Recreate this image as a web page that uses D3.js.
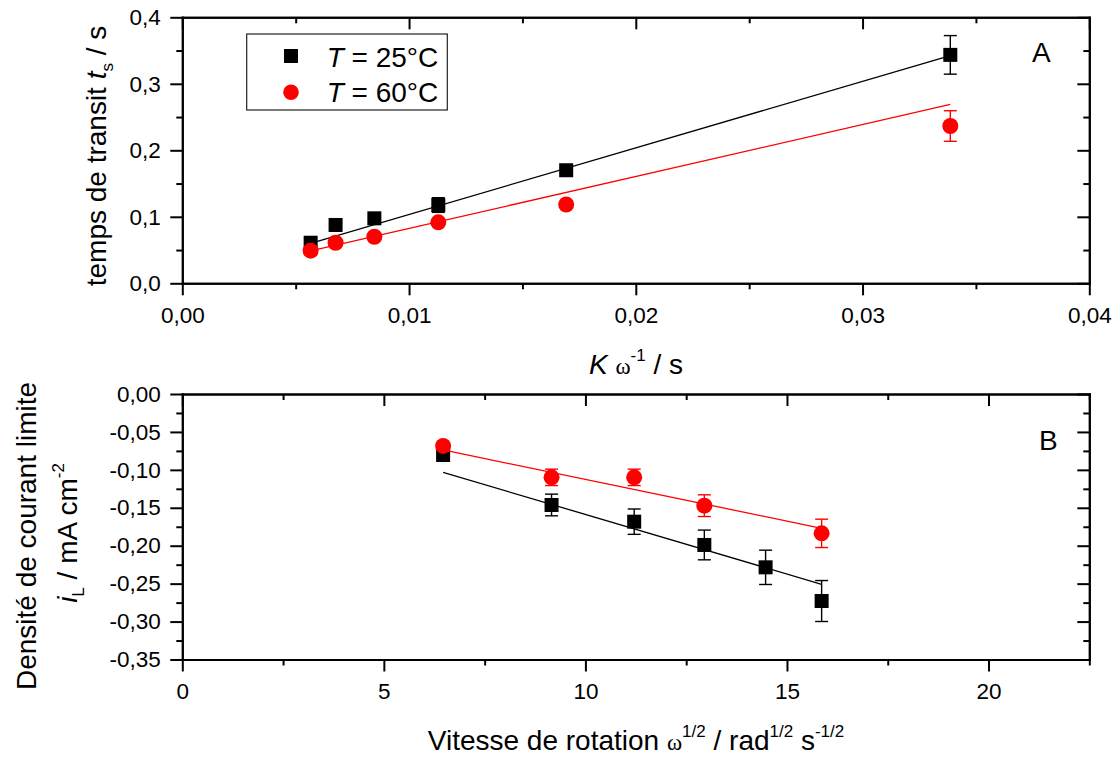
<!DOCTYPE html>
<html><head><meta charset="utf-8">
<script src="https://cdn.jsdelivr.net/npm/d3@7"></script>
<style>body{margin:0;background:#fff} svg text{font-family:"Liberation Sans",Arial,sans-serif}</style>
</head><body><svg id="c" width="1116" height="760"></svg>
<script>
// ---------- Panel A data ----------
const kOmegaInv = [0.00566, 0.00676, 0.00847, 0.01129, 0.01693, 0.03387];
const tA25 = [0.061, 0.0877, 0.0977, 0.1177, 0.170, 0.3435];
const errA25 = [0.004, 0.003, 0.003, 0.011, 0.004, 0.029];
const tA60 = [0.049, 0.061, 0.070, 0.0917, 0.1185, 0.2365];
const errA60 = [0.003, 0.003, 0.003, 0.004, 0.004, 0.023];
const fitA25y = [0.060, 0.3425];   // fitted line at first / last x
const fitA60y = [0.0486, 0.269];
const aXTicks = [0, 0.01, 0.02, 0.03, 0.04];
const aXMinor = [0.005, 0.015, 0.025, 0.035];
const aYTicks = [0, 0.1, 0.2, 0.3, 0.4];
const aYMinor = [0.05, 0.15, 0.25, 0.35];

// ---------- Panel B data ----------
const sqrtOmega25 = [6.47, 9.16, 11.21, 12.95, 14.47, 15.86];
const iL25 = [-0.0804, -0.1463, -0.1683, -0.199, -0.2285, -0.2729];
const errB25 = [0.004, 0.0143, 0.0167, 0.0196, 0.0226, 0.027];
const sqrtOmega60 = [6.47, 9.16, 11.21, 12.95, 15.86];
const iL60 = [-0.0685, -0.1099, -0.1099, -0.1472, -0.1837];
const errB60 = [0.003, 0.0108, 0.0108, 0.0143, 0.0187];
const fitB25y = [-0.1033, -0.2509];
const fitB60y = [-0.0738, -0.177];
const bXTicks = [0, 5, 10, 15, 20];
const bXMinor = [2.5, 7.5, 12.5, 17.5, 22.5];
const bYTicks = [0, -0.05, -0.10, -0.15, -0.20, -0.25, -0.30, -0.35];
const bYMinor = [-0.025, -0.075, -0.125, -0.175, -0.225, -0.275, -0.325];

const legendLabels = ["25°C", "60°C"];
const colors = ["#000000", "#ff0000"];

const FONT = '"Liberation Sans", Arial, sans-serif';
const SERIF = '"Liberation Serif", "Times New Roman", serif';
const svg = d3.select("#c");
const loc = d3.formatLocale({decimal: ",", thousands: ".", grouping: [3], currency: ["", ""], minus: "-"});

const L = 182.3, R = 1089.3;
const xA = d3.scaleLinear().domain([0, 0.04]).range([L, R]);
const yA = d3.scaleLinear().domain([0, 0.4]).range([283.3, 17.3]);
const xB = d3.scaleLinear().domain([0, 22.5]).range([L, R]);
const yB = d3.scaleLinear().domain([-0.35, 0]).range([659.5, 394]);

function style(sel) {
  sel.select(".domain").attr("stroke", "#000").attr("stroke-width", 2).attr("stroke-linecap", "square");
  sel.selectAll(".tick line").attr("stroke", "#000").attr("stroke-width", 2);
  sel.selectAll(".tick text").attr("fill", "#000").style("font-size", "22.5px").style("font-family", FONT);
}

function frame(g, x, y, o) {
  const yb = y.range()[0], yt = y.range()[1];
  const xl = x.range()[0], xr = x.range()[1];
  const add = (tr, ax) => g.append("g").attr("transform", tr).call(ax).call(style);
  add(`translate(0,${yb})`, d3.axisBottom(x).tickValues(o.xMinor).tickSize(6).tickSizeOuter(0).tickFormat(""));
  add(`translate(0,${yb})`, d3.axisBottom(x).tickValues(o.xMajor).tickSize(12).tickSizeOuter(0).tickPadding(11.5).tickFormat(o.fx));
  add(`translate(0,${yt})`, d3.axisTop(x).tickValues(o.xMinor).tickSize(-6).tickSizeOuter(0).tickFormat(""));
  add(`translate(0,${yt})`, d3.axisTop(x).tickValues(o.xMajor).tickSize(-12).tickSizeOuter(0).tickFormat(""));
  add(`translate(${xl},0)`, d3.axisLeft(y).tickValues(o.yMinor).tickSize(6).tickSizeOuter(0).tickFormat(""));
  add(`translate(${xl},0)`, d3.axisLeft(y).tickValues(o.yMajor).tickSize(12).tickSizeOuter(0).tickPadding(9.5).tickFormat(o.fy));
  add(`translate(${xr},0)`, d3.axisRight(y).tickValues(o.yMinor).tickSize(-6).tickSizeOuter(0).tickFormat(""));
  add(`translate(${xr},0)`, d3.axisRight(y).tickValues(o.yMajor).tickSize(-12).tickSizeOuter(0).tickFormat(""));
}

function series(g, x, y, xs, ys, errs, fitY, color, shape) {
  g.append("line")
    .attr("x1", x(xs[0])).attr("y1", y(fitY[0]))
    .attr("x2", x(xs[xs.length - 1])).attr("y2", y(fitY[1]))
    .attr("stroke", color).attr("stroke-width", 1.3);
  const pts = xs.map((v, i) => ({x: v, y: ys[i], e: errs[i]}));
  const eb = g.append("g").attr("stroke", color).attr("stroke-width", 1.4);
  pts.forEach(p => {
    const cx = x(p.x), y1 = y(p.y + p.e), y2 = y(p.y - p.e);
    eb.append("line").attr("x1", cx).attr("x2", cx).attr("y1", y1).attr("y2", y2);
    eb.append("line").attr("x1", cx - 6.5).attr("x2", cx + 6.5).attr("y1", y1).attr("y2", y1);
    eb.append("line").attr("x1", cx - 6.5).attr("x2", cx + 6.5).attr("y1", y2).attr("y2", y2);
  });
  if (shape === "square") {
    g.selectAll(null).data(pts).enter().append("rect")
      .attr("x", d => x(d.x) - 7).attr("y", d => y(d.y) - 7)
      .attr("width", 14).attr("height", 14).attr("fill", color);
  } else {
    g.selectAll(null).data(pts).enter().append("circle")
      .attr("cx", d => x(d.x)).attr("cy", d => y(d.y)).attr("r", 8).attr("fill", color);
  }
}

// ---------- Panel A ----------
const gA = svg.append("g");
frame(gA, xA, yA, {xMajor: aXTicks, xMinor: aXMinor, yMajor: aYTicks, yMinor: aYMinor,
  fx: loc.format(".2f"), fy: loc.format(".1f")});
series(gA, xA, yA, kOmegaInv, tA25, errA25, fitA25y, colors[0], "square");
series(gA, xA, yA, kOmegaInv, tA60, errA60, fitA60y, colors[1], "circle");

// legend
const lg = svg.append("g");
lg.append("rect").attr("x", 246.7).attr("y", 34).attr("width", 200.6).attr("height", 76)
  .attr("fill", "#fff").attr("stroke", "#222").attr("stroke-width", 1.2);
lg.append("rect").attr("x", 291 - 7).attr("y", 56 - 7).attr("width", 14).attr("height", 14).attr("fill", colors[0]);
lg.append("circle").attr("cx", 291).attr("cy", 92.3).attr("r", 7.8).attr("fill", colors[1]);
legendLabels.forEach((lab, i) => {
  const t = lg.append("text").attr("x", 326.7).attr("y", i === 0 ? 66.7 : 101.7)
    .style("font-size", "28px").attr("fill", "#000");
  t.append("tspan").style("font-style", "italic").text("T");
  t.append("tspan").text(" = " + lab);
});
svg.append("text").attr("x", 1032).attr("y", 62).style("font-size", "28px").text("A");

// axis titles A
const tAx = svg.append("text").attr("x", 636).attr("y", 374).attr("text-anchor", "middle").style("font-size", "28px");
tAx.append("tspan").style("font-style", "italic").text("K");
tAx.append("tspan").text(" ");
tAx.append("tspan").style("font-family", SERIF).style("font-size", "23px").text("ω");
tAx.append("tspan").style("font-size", "17px").attr("dy", -13).text("-1");
tAx.append("tspan").attr("dy", 13).text(" / s");

const tAy = svg.append("text").attr("transform", "translate(106,156) rotate(-90)")
  .attr("text-anchor", "middle").style("font-size", "28px");
tAy.append("tspan").text("temps de transit ");
tAy.append("tspan").style("font-style", "italic").text("t");
tAy.append("tspan").style("font-size", "17px").attr("dy", 7).text("s");
tAy.append("tspan").attr("dy", -7).text(" / s");

// ---------- Panel B ----------
const gB = svg.append("g");
frame(gB, xB, yB, {xMajor: bXTicks, xMinor: bXMinor, yMajor: bYTicks, yMinor: bYMinor,
  fx: loc.format("d"), fy: loc.format(".2f")});
series(gB, xB, yB, sqrtOmega25, iL25, errB25, fitB25y, colors[0], "square");
series(gB, xB, yB, sqrtOmega60, iL60, errB60, fitB60y, colors[1], "circle");
svg.append("text").attr("x", 1039).attr("y", 450).style("font-size", "28px").text("B");

const tBx = svg.append("text").attr("x", 636).attr("y", 750).attr("text-anchor", "middle").style("font-size", "28px");
tBx.append("tspan").text("Vitesse de rotation ");
tBx.append("tspan").style("font-family", SERIF).style("font-size", "23px").text("ω");
tBx.append("tspan").style("font-size", "17px").attr("dy", -13).text("1/2");
tBx.append("tspan").attr("dy", 13).text(" / rad");
tBx.append("tspan").style("font-size", "17px").attr("dy", -13).text("1/2");
tBx.append("tspan").attr("dy", 13).text(" s");
tBx.append("tspan").style("font-size", "17px").attr("dy", -13).text("-1/2");

const tBy1 = svg.append("text").attr("transform", "translate(36,536) rotate(-90)")
  .attr("text-anchor", "middle").style("font-size", "28px").text("Densité de courant limite");
const tBy2 = svg.append("text").attr("transform", "translate(77,533) rotate(-90)")
  .attr("text-anchor", "middle").style("font-size", "28px");
tBy2.append("tspan").style("font-style", "italic").text("i");
tBy2.append("tspan").style("font-size", "17px").attr("dy", 7).text("L");
tBy2.append("tspan").attr("dy", -7).text(" / mA cm");
tBy2.append("tspan").style("font-size", "17px").attr("dy", -13).text("-2");
</script></body></html>
